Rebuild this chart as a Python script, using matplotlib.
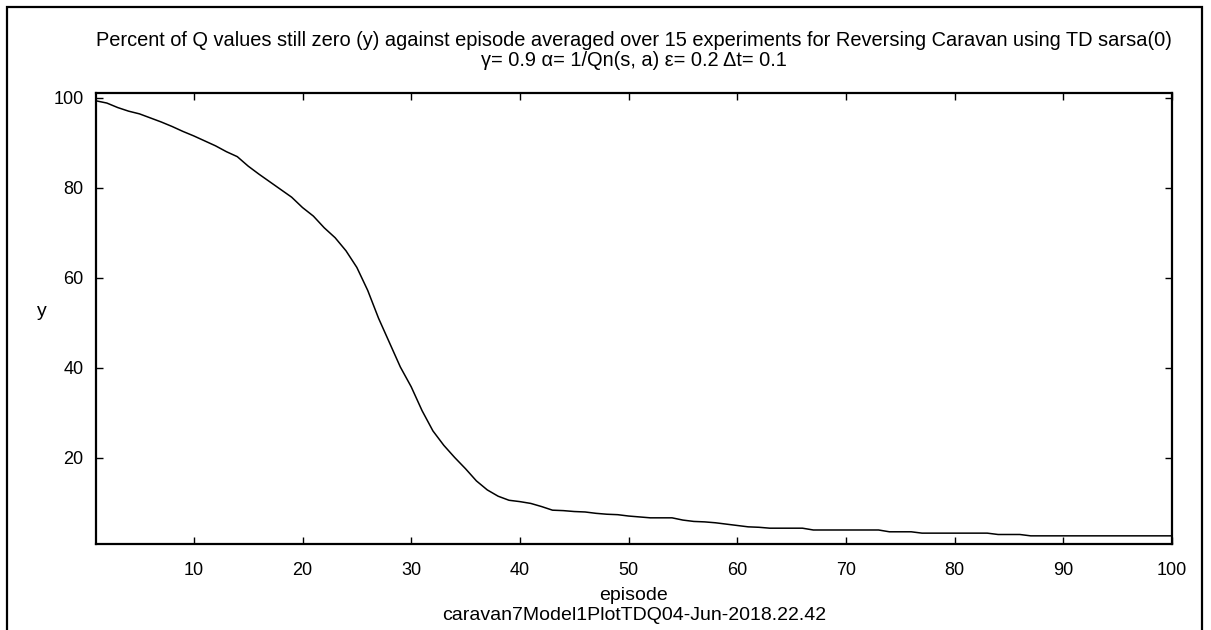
import matplotlib
matplotlib.use("Agg")
import matplotlib.pyplot as plt
from matplotlib.patches import Rectangle
import numpy as np

plt.rcParams['font.family'] = ['Liberation Sans', 'DejaVu Sans']

# Percent of Q values still zero, per episode
episodes = np.arange(1, 101)
pct_zero = [
    99.3, 98.8, 97.8, 97.0, 96.4, 95.5, 94.6, 93.6, 92.5, 91.5,
    90.4, 89.3, 88.0, 86.9, 84.8, 83.0, 81.3, 79.6, 77.9, 75.6,
    73.7, 71.1, 68.9, 66.0, 62.3, 57.2, 51.0, 45.6, 40.2, 35.8,
    30.5, 26.0, 22.8, 20.1, 17.6, 14.9, 12.9, 11.5, 10.6, 10.3,
    9.9, 9.2, 8.4, 8.3, 8.1, 8.0, 7.7, 7.5, 7.4, 7.1,
    6.9, 6.7, 6.7, 6.7, 6.2, 5.9, 5.8, 5.6, 5.3, 5.0,
    4.7, 4.6, 4.4, 4.4, 4.4, 4.4, 4.0, 4.0, 4.0, 4.0,
    4.0, 4.0, 4.0, 3.6, 3.6, 3.6, 3.3, 3.3, 3.3, 3.3,
    3.3, 3.3, 3.3, 3.0, 3.0, 3.0, 2.7, 2.7, 2.7, 2.7,
    2.7, 2.7, 2.7, 2.7, 2.7, 2.7, 2.7, 2.7, 2.7, 2.7,
]
x_ticks = [10, 20, 30, 40, 50, 60, 70, 80, 90, 100]
y_ticks = [20, 40, 60, 80, 100]

title_1 = ("Percent of Q values still zero (y) against episode averaged over 15 "
           "experiments for Reversing Caravan using TD sarsa(0)")
title_2 = "γ= 0.9 α= 1/Qn(s, a) ε= 0.2 Δt= 0.1"
footer = "caravan7Model1PlotTDQ04-Jun-2018.22.42"

W, H = 1211, 630
fig = plt.figure(figsize=(W / 100, H / 100), dpi=100)

# outer frame (bottom edge falls outside the picture)
fig.patches.append(Rectangle((7 / W, -0.1), (1202 - 7) / W, 0.1 + 1 - 7 / H,
                             transform=fig.transFigure, fill=False,
                             edgecolor="black", linewidth=1.6, clip_on=False))

ax = fig.add_axes([96 / W, 1 - 543.5 / H, (1172 - 96) / W, (543.5 - 92.7) / H])
ax.plot(episodes, pct_zero, color="black", linewidth=1.1)

ax.set_xlim(1, 100)
ax.set_ylim(1.0, 101.1)
ax.set_xticks(x_ticks)
ax.set_yticks(y_ticks)
ax.tick_params(direction="in", length=5, width=1, labelsize=13,
               top=True, right=True, colors="black")
ax.tick_params(axis="x", pad=13)
ax.tick_params(axis="y", pad=9)
for s in ax.spines.values():
    s.set_linewidth(1.6)

fs = 14.4
fig.text(634 / W, 1 - 41 / H, title_1, ha="center", va="center", fontsize=fs)
fig.text(634 / W, 1 - 60 / H, title_2, ha="center", va="center", fontsize=fs)
fig.text(42 / W, 1 - 311 / H, "y", ha="center", va="center", fontsize=14)
fig.text(634 / W, 1 - 596 / H, "episode", ha="center", va="center", fontsize=14)
fig.text(634 / W, 1 - 616 / H, footer, ha="center", va="center", fontsize=14)

fig.savefig("out.png", dpi=100, facecolor="white")
